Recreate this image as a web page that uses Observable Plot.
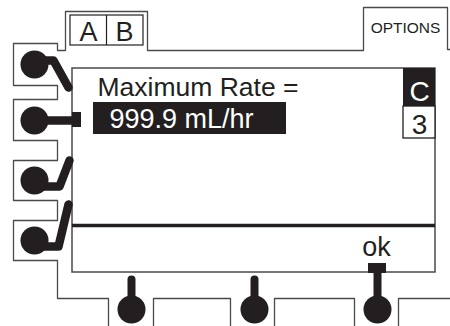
<!DOCTYPE html>
<html><head><meta charset="utf-8">
<script src="https://cdn.jsdelivr.net/npm/d3@7"></script>
<script src="https://cdn.jsdelivr.net/npm/@observablehq/plot@0.6"></script>
<style>html,body{margin:0;padding:0;background:#fff;}</style>
</head><body><div id="chart"></div>
<script>
// Frame outline paths (diagram coordinates)
const framePaths = [
  {id: "left", pts: [[108,326],[108,298],[57,298],[57,260],[13,260],[13,220],[57,220],[57,200],[13,200],[13,160],[57,160],[57,140],[13,140],[13,99],[57,99],[57,85],[13,85],[13,43],[57,43],[57,50],[65,50],[65,11],[147,11],[147,50],[363,50],[363,7],[447,7],[447,49],[450,49]]},
  {id: "bot1", pts: [[153,326],[153,298],[230,298],[230,326]]},
  {id: "bot2", pts: [[274,326],[274,298],[354,298],[354,326]]},
  {id: "bot3", pts: [[398,326],[398,298],[450,298]]}
];
// Screen
const screenBox = [{x1: 72, x2: 435, y1: 68, y2: 272}];
const separator = [225];
// Tab boxes
const tabBoxes = [{x1: 70, x2: 143, y1: 15, y2: 45}];
const tabDivider = [106];
const tabLabels = [{x: 88, y: 40, t: "A"}, {x: 124, y: 40, t: "B"}];
const optionsLabel = [{x: 405, y: 32, t: "OPTIONS"}];
// Channel indicator
const channelBox = [{x1: 403, x2: 435, y1: 68, y2: 106, t: "C"}];
const channelNum = [{x1: 403, x2: 435, y1: 106, y2: 138, t: "3"}];
// Message
const messageLines = [{x: 97, y: 95, t: "Maximum Rate ="}];
const valueBox = [{x1: 93, x2: 286, y1: 102, y2: 134}];
const valueText = [{x: 109, y: 127, t: "999.9 mL/hr"}];
const softKeyLabels = [{x: 376, y: 255, t: "ok"}];
// Buttons
const leftKnobs = [{x: 34, y: 64}, {x: 34, y: 120}, {x: 34, y: 180}, {x: 34, y: 240}];
const leftArms = [
  {id: 1, pts: [[38,60],[53,60],[68,87]]},
  {id: 2, pts: [[40,120],[73,120]]},
  {id: 3, pts: [[42,186],[59,186],[69,160]]},
  {id: 4, pts: [[42,246],[58,246],[68,204]]}
];
const armTabs = [{x1: 72, x2: 81, y1: 112, y2: 127}, {x1: 368, x2: 386, y1: 263, y2: 273}];
const bottomKnobs = [{x: 131, y: 309}, {x: 254, y: 309}, {x: 377, y: 309}];
const bottomStems = [{x: 131, y1: 279, y2: 300}, {x: 254, y1: 279, y2: 300}, {x: 377, y1: 273, y2: 300}];

const flat = (paths) => paths.flatMap(p => p.pts.map(([x, y]) => ({id: p.id, x, y})));
const BLACK = "#231f20";
const LINE = "#4a4a4a";
const FONT = "Liberation Sans, Arial, sans-serif";

const chart = Plot.plot({
  width: 450, height: 326, margin: 0,
  x: {domain: [0, 450], range: [0, 450], axis: null},
  y: {domain: [0, 326], range: [0, 326], axis: null},
  style: {fontFamily: FONT, background: "white"},
  marks: [
    Plot.line(flat(framePaths), {x: "x", y: "y", z: "id", stroke: LINE, strokeWidth: 1.3}),
    Plot.rect(screenBox, {x1: "x1", x2: "x2", y1: "y1", y2: "y2", fill: "none", stroke: LINE, strokeWidth: 1.5}),
    Plot.ruleY(separator, {x1: 72, x2: 435, stroke: BLACK, strokeWidth: 3.5}),
    Plot.rect(tabBoxes, {x1: "x1", x2: "x2", y1: "y1", y2: "y2", fill: "white", stroke: BLACK, strokeWidth: 1.2}),
    Plot.ruleX(tabDivider, {y1: 15, y2: 45, stroke: BLACK, strokeWidth: 1.2}),
    Plot.text(tabLabels, {x: "x", y: "y", text: "t", fontSize: 27, lineAnchor: "bottom", fill: BLACK}),
    Plot.text(optionsLabel, {x: "x", y: "y", text: "t", fontSize: 15.5, lineAnchor: "bottom", fill: BLACK}),
    Plot.rect(channelBox, {x1: "x1", x2: "x2", y1: "y1", y2: "y2", fill: BLACK}),
    Plot.text(channelBox, {x: d => (d.x1 + d.x2) / 2, y: 100, text: "t", fontSize: 28, lineAnchor: "bottom", fill: "white"}),
    Plot.rect(channelNum, {x1: "x1", x2: "x2", y1: "y1", y2: "y2", fill: "white", stroke: BLACK, strokeWidth: 1.3}),
    Plot.text(channelNum, {x: d => (d.x1 + d.x2) / 2, y: 133, text: "t", fontSize: 28, lineAnchor: "bottom", fill: BLACK}),
    Plot.text(messageLines, {x: "x", y: "y", text: "t", fontSize: 26.5, textAnchor: "start", lineAnchor: "bottom", fill: BLACK}),
    Plot.rect(valueBox, {x1: "x1", x2: "x2", y1: "y1", y2: "y2", fill: BLACK}),
    Plot.text(valueText, {x: "x", y: "y", text: "t", fontSize: 27, textAnchor: "start", lineAnchor: "bottom", fill: "white"}),
    Plot.text(softKeyLabels, {x: "x", y: "y", text: "t", fontSize: 27, lineAnchor: "bottom", fill: BLACK}),
    Plot.line(flat(leftArms), {x: "x", y: "y", z: "id", stroke: BLACK, strokeWidth: 8.5, strokeLinecap: "round", strokeLinejoin: "round"}),
    Plot.rect(armTabs, {x1: "x1", x2: "x2", y1: "y1", y2: "y2", fill: BLACK}),
    Plot.dot(leftKnobs, {x: "x", y: "y", r: 14, fill: BLACK}),
    Plot.link(bottomStems, {x1: "x", x2: "x", y1: "y1", y2: "y2", stroke: BLACK, strokeWidth: 8, strokeLinecap: "round"}),
    Plot.dot(bottomKnobs, {x: "x", y: "y", r: 14, fill: BLACK})
  ]
});
document.getElementById("chart").appendChild(chart);
</script>
</body></html>
